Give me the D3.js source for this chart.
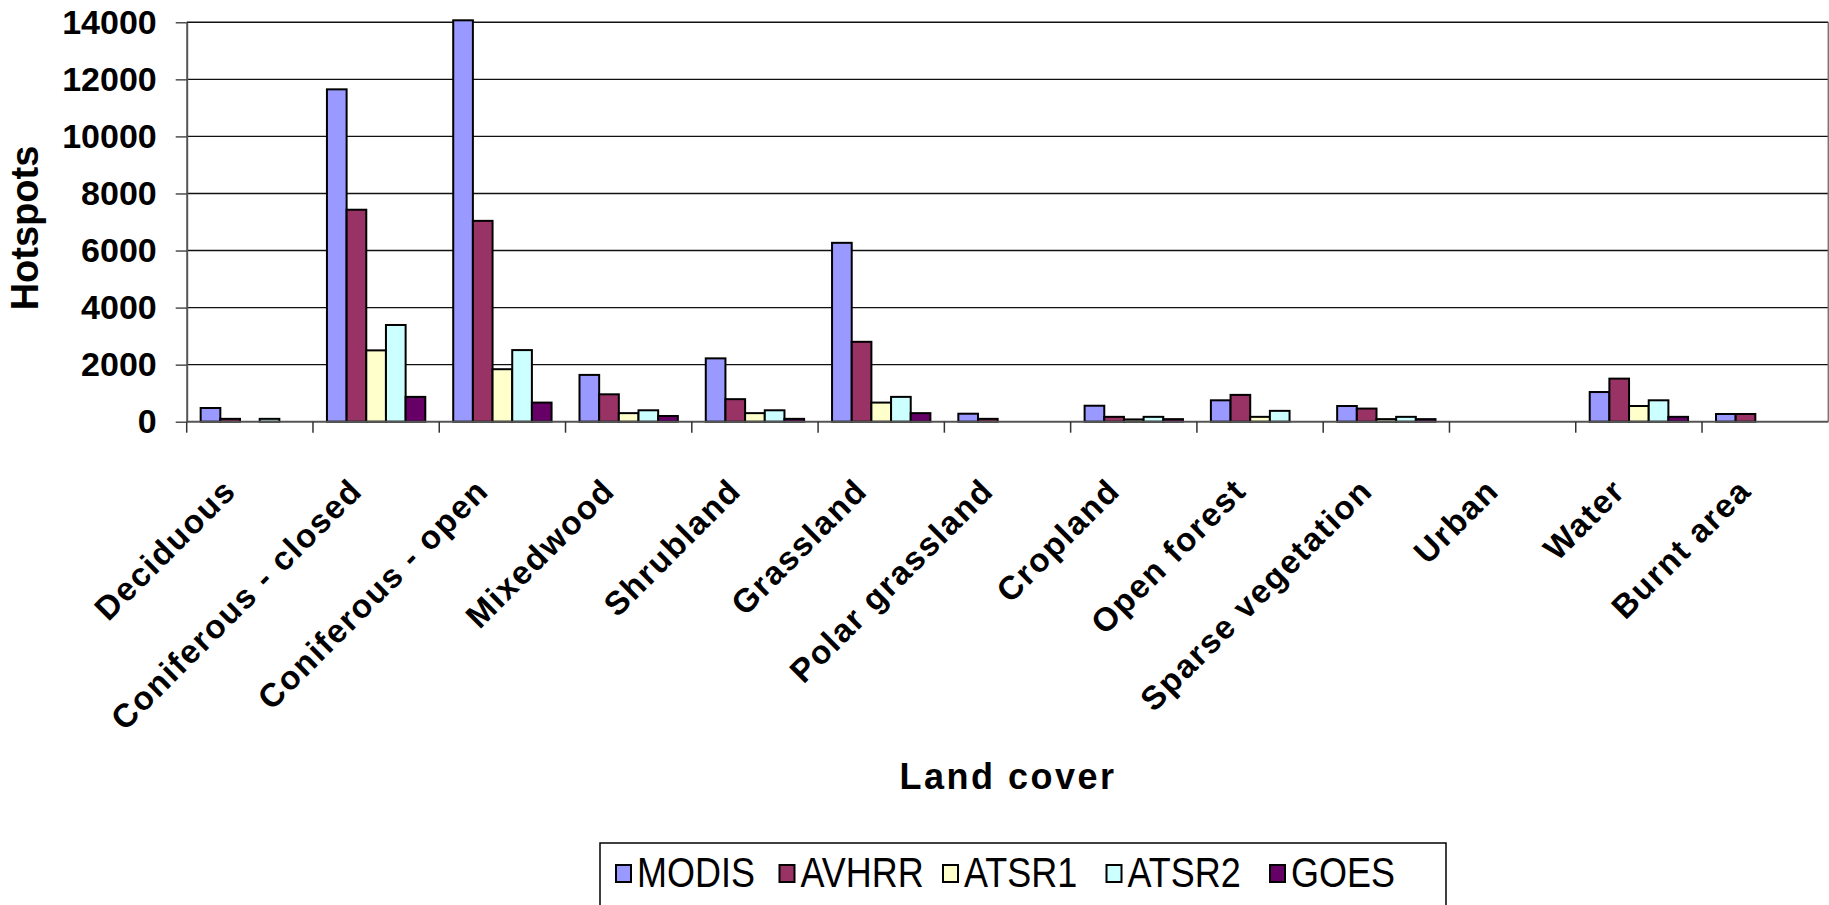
<!DOCTYPE html>
<html>
<head>
<meta charset="utf-8">
<script src="https://cdn.jsdelivr.net/npm/d3@7"></script>
<style>
  body { margin: 0; background: #fff; }
  svg { display: block; font-family: "Liberation Sans", Arial, sans-serif; }
</style>
</head>
<body>
<script>
// land cover classes on the x axis
var categories = ['Deciduous', 'Coniferous - closed', 'Coniferous - open', 'Mixedwood', 'Shrubland',
    'Grassland', 'Polar grassland', 'Cropland', 'Open forest', 'Sparse vegetation', 'Urban', 'Water', 'Burnt area'];

// hotspots per sensor
var modis = [480, 11650, 14070, 1640, 2220, 6270, 280, 560, 750, 550, 0, 1040, 270];
var avhrr = [100, 7430, 7040, 960, 790, 2800, 100, 170, 940, 460, 0, 1510, 270];
var atsr1 = [0, 2500, 1840, 300, 300, 670, 0, 80, 170, 90, 0, 550, 0];
var atsr2 = [100, 3390, 2510, 400, 400, 870, 0, 170, 380, 170, 0, 750, 0];
var goes = [0, 870, 670, 200, 100, 300, 0, 90, 0, 90, 0, 170, 0];

var seriesNames = ['MODIS', 'AVHRR', 'ATSR1', 'ATSR2', 'GOES'];
var seriesColors = ['#9999FF', '#993366', '#FFFFCC', '#CCFFFF', '#660066'];
var yTicks = [0, 2000, 4000, 6000, 8000, 10000, 12000, 14000];

var allSeries = [modis, avhrr, atsr1, atsr2, goes];

var width = 1829, height = 905;
var plot = { left: 186.7, right: 1828.3, top: 22.3, bottom: 421.7 };

var svg = d3.select('body').append('svg')
    .attr('width', width)
    .attr('height', height);

var x = d3.scaleBand().domain(categories).range([plot.left, plot.right]).paddingInner(0).paddingOuter(0);
var xSub = d3.scaleBand().domain(seriesNames).range([0, x.bandwidth()]).paddingInner(0).paddingOuter(0.71);
var y = d3.scaleLinear().domain([0, 14000]).range([plot.bottom, plot.top]);

// gridlines
svg.append('g')
    .selectAll('line')
    .data(yTicks.filter(function (d) { return d > 0; }))
    .enter().append('line')
    .attr('x1', plot.left).attr('x2', plot.right)
    .attr('y1', function (d) { return y(d); })
    .attr('y2', function (d) { return y(d); })
    .attr('stroke', '#111')
    .attr('stroke-width', 1.4);

// right border of plot area
svg.append('line')
    .attr('x1', plot.right).attr('x2', plot.right)
    .attr('y1', plot.top).attr('y2', plot.bottom)
    .attr('stroke', '#777').attr('stroke-width', 1.5);

// bars
var bars = [];
allSeries.forEach(function (vals, s) {
    vals.forEach(function (v, i) {
        bars.push({ cat: categories[i], series: seriesNames[s], color: seriesColors[s], value: v });
    });
});

svg.append('g')
    .selectAll('rect')
    .data(bars.filter(function (d) { return d.value > 0; }))
    .enter().append('rect')
    .attr('x', function (d) { return x(d.cat) + xSub(d.series); })
    .attr('y', function (d) { return y(d.value); })
    .attr('width', xSub.bandwidth())
    .attr('height', function (d) { return y(0) - y(d.value); })
    .attr('fill', function (d) { return d.color; })
    .attr('stroke', '#000')
    .attr('stroke-width', 2);

// y axis
var yAxis = svg.append('g')
    .attr('transform', 'translate(' + plot.left + ',0)')
    .call(d3.axisLeft(y).tickValues(yTicks).tickFormat(d3.format('d'))
        .tickSize(11).tickPadding(19).tickSizeOuter(0));
yAxis.select('.domain').attr('stroke', '#555').attr('stroke-width', 2);
yAxis.selectAll('.tick line').attr('stroke', '#333').attr('stroke-width', 1.3);
yAxis.selectAll('.tick text')
    .attr('font-size', '34px')
    .attr('font-weight', 'bold')
    .attr('font-family', '"Liberation Sans", Arial, sans-serif')
    .attr('fill', '#000');

// x axis line and category boundary ticks
svg.append('line')
    .attr('x1', plot.left).attr('x2', plot.right)
    .attr('y1', plot.bottom).attr('y2', plot.bottom)
    .attr('stroke', '#555').attr('stroke-width', 2);

var bounds = categories.map(function (c) { return x(c); });
svg.append('g')
    .selectAll('line')
    .data(bounds)
    .enter().append('line')
    .attr('x1', function (d) { return d; }).attr('x2', function (d) { return d; })
    .attr('y1', plot.bottom).attr('y2', plot.bottom + 11)
    .attr('stroke', '#333').attr('stroke-width', 1.5);

// rotated category labels
svg.append('g')
    .selectAll('text')
    .data(categories)
    .enter().append('text')
    .attr('transform', function (d) {
        return 'translate(' + (x(d) + x.bandwidth() / 2 - 12) + ',' + (plot.bottom + 71) + ') rotate(-45)';
    })
    .attr('text-anchor', 'end')
    .attr('font-size', '33px')
    .attr('font-weight', 'bold')
    .attr('letter-spacing', '1.6px')
    .text(function (d) { return d; });

// axis titles
svg.append('text')
    .attr('transform', 'translate(38,228) rotate(-90)')
    .attr('text-anchor', 'middle')
    .attr('font-size', '38px')
    .attr('font-weight', 'bold')
    .text('Hotspots');

svg.append('text')
    .attr('x', 1008)
    .attr('y', 789)
    .attr('text-anchor', 'middle')
    .attr('font-size', '36px')
    .attr('font-weight', 'bold')
    .attr('letter-spacing', '2.5px')
    .text('Land cover');

// legend
var legend = svg.append('g');
legend.append('rect')
    .attr('x', 600).attr('y', 843)
    .attr('width', 846).attr('height', 80)
    .attr('fill', '#fff')
    .attr('stroke', '#000')
    .attr('stroke-width', 1.5);

var item = legend.selectAll('g.item')
    .data(seriesNames)
    .enter().append('g')
    .attr('class', 'item')
    .attr('transform', function (d, i) { return 'translate(' + (616 + i * 163.5) + ',0)'; });

item.append('rect')
    .attr('x', 0).attr('y', 865)
    .attr('width', 15).attr('height', 17)
    .attr('fill', function (d, i) { return seriesColors[i]; })
    .attr('stroke', '#000')
    .attr('stroke-width', 2);

item.append('text')
    .attr('transform', 'translate(21,887) scale(0.9,1.05)')
    .attr('font-size', '40px')
    .text(function (d) { return d; });
</script>
</body>
</html>
